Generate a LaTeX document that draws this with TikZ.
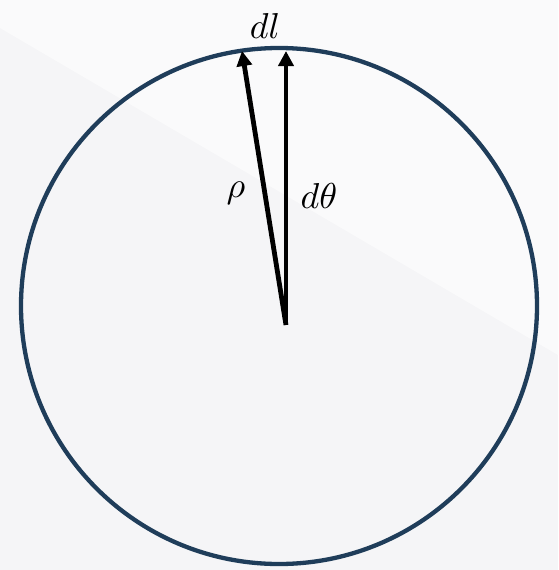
\documentclass[tikz,border=0pt]{standalone}
\usepackage{graphicx}
\usetikzlibrary{arrows.meta}
\definecolor{ringblue}{RGB}{31,61,90}
\definecolor{bgA}{RGB}{245,245,247}
\definecolor{bgB}{RGB}{250,250,251}
\tikzset{
  vec/.style={line width=4.8pt, -{Triangle[length=15pt,width=15pt]}, black},
  lbl/.style={inner sep=0pt},
}
\newcommand{\mybiglabel}[1]{\scalebox{3.6}{$#1$}}
\begin{document}
\begin{tikzpicture}[x=1pt,y=-1pt]
\useasboundingbox (0,0) rectangle (558,570);
\fill[bgA] (0,0) rectangle (558,570);
\fill[bgB] (0,0) -- (558,0) -- (558,355) -- (0,28) -- cycle;
\node[circle, draw=ringblue, line width=4.3pt, minimum size=516pt, inner sep=0pt] (ring) at (279,306) {};
\coordinate (O) at (286,325);
\coordinate (A) at (286,51);
\coordinate (B) at (242,51);
\draw[vec] (O) -- (A);
\draw[vec] (O) -- (B);
\node[lbl] (dl) at (265,26) {\mybiglabel{dl}};
\node[lbl] (rho) at (236,193) {\mybiglabel{\rho}};
\node[lbl] (dth) at (319,196) {\mybiglabel{d\theta}};
\end{tikzpicture}
\end{document}
